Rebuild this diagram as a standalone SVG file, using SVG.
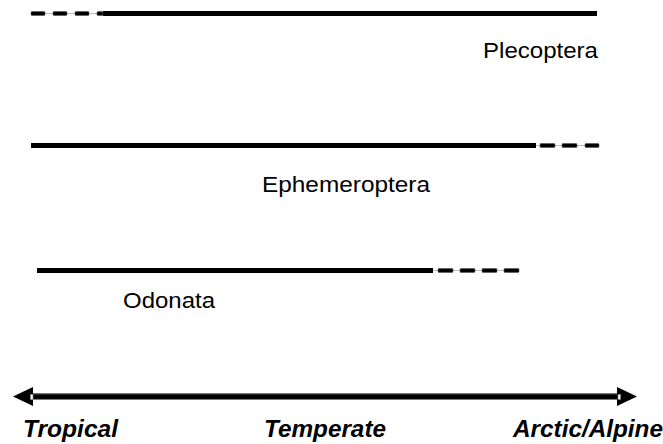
<svg xmlns="http://www.w3.org/2000/svg" width="663" height="444" viewBox="0 0 663 444">
<style>
.solid{stroke:#000;stroke-width:5;fill:none}
.dash{fill:#000;stroke:#555;stroke-width:0.6}
.link{stroke:#bbb;stroke-width:1}
.lbl{font-family:"Liberation Sans",Arial,sans-serif;font-size:22px;fill:#000}
.axis{font-family:"Liberation Sans",Arial,sans-serif;font-size:23px;font-weight:bold;font-style:italic;fill:#000}
</style>
<rect width="663" height="444" fill="#fff"/>
<g id="plecoptera">
<line class="link" x1="31" y1="13.5" x2="103" y2="13.5"/>
<rect class="dash" x="31" y="11.5" width="14" height="4" rx="1"/>
<rect class="dash" x="53" y="11.5" width="14" height="4" rx="1"/>
<rect class="dash" x="75" y="11.5" width="14" height="4" rx="1"/>
<rect class="dash" x="97" y="11.5" width="6" height="4" rx="1"/>
<line class="solid" x1="103" y1="13.5" x2="597" y2="13.5"/>
<text class="lbl" x="483" y="58" textLength="115" lengthAdjust="spacingAndGlyphs">Plecoptera</text>
</g>
<g id="ephemeroptera">
<line class="link" x1="536" y1="145.5" x2="599" y2="145.5"/>
<line class="solid" x1="31" y1="145.5" x2="536" y2="145.5"/>
<rect class="dash" x="540" y="143.5" width="15" height="4" rx="1"/>
<rect class="dash" x="562" y="143.5" width="15" height="4" rx="1"/>
<rect class="dash" x="585" y="143.5" width="14" height="4" rx="1"/>
<text class="lbl" x="262" y="192" textLength="168" lengthAdjust="spacingAndGlyphs">Ephemeroptera</text>
</g>
<g id="odonata">
<line class="link" x1="433" y1="270.5" x2="519" y2="270.5"/>
<line class="solid" x1="37" y1="270.5" x2="433" y2="270.5"/>
<rect class="dash" x="438" y="268.5" width="15" height="4" rx="1"/>
<rect class="dash" x="460" y="268.5" width="15" height="4" rx="1"/>
<rect class="dash" x="482" y="268.5" width="15" height="4" rx="1"/>
<rect class="dash" x="504" y="268.5" width="15" height="4" rx="1"/>
<text class="lbl" x="123" y="308" textLength="92" lengthAdjust="spacingAndGlyphs">Odonata</text>
</g>
<g id="connectors">
<g id="climate-axis">
<rect x="30" y="393.5" width="590" height="6" fill="#000"/>
<line x1="30" y1="394" x2="620" y2="394" stroke="#666" stroke-width="0.8"/>
<polygon points="13,396.5 33,387 33,406" fill="#000"/>
<polygon points="637,396.5 617,387 617,406" fill="#000"/>
<rect x="30.5" y="394.5" width="2.5" height="5" fill="#fff" stroke="#888" stroke-width="0.6"/>
<rect x="618" y="394.5" width="2.5" height="5" fill="#fff" stroke="#888" stroke-width="0.6"/>
</g>
</g>
<g id="axis-labels">
<text class="axis" x="23" y="437" textLength="95" lengthAdjust="spacingAndGlyphs">Tropical</text>
<text class="axis" x="264" y="437" textLength="122" lengthAdjust="spacingAndGlyphs">Temperate</text>
<text class="axis" x="513" y="437" textLength="150" lengthAdjust="spacingAndGlyphs">Arctic/Alpine</text>
</g>
</svg>
